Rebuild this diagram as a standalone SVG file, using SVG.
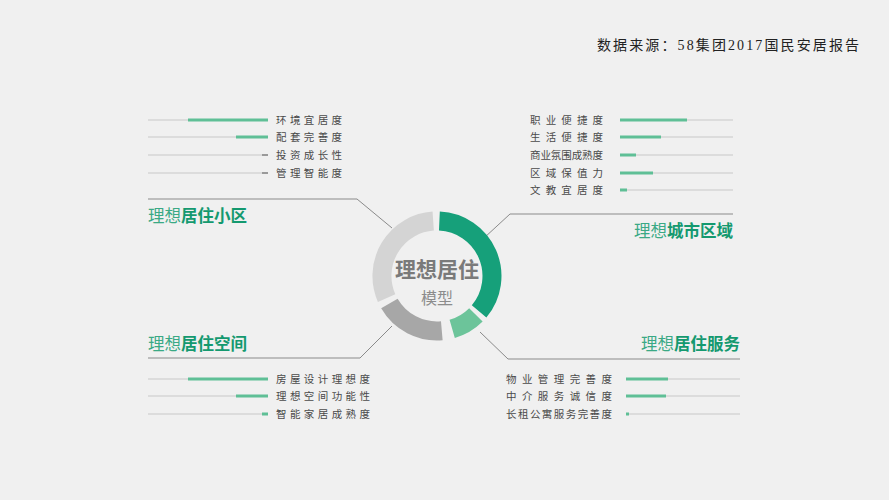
<svg xmlns="http://www.w3.org/2000/svg" width="889" height="500" viewBox="0 0 889 500">
<style>
.bg{fill:#f0f0f0}
.track{stroke:#dcdcdc;stroke-width:2;fill:none}
.bar{stroke:#5fbf96;stroke-width:3;fill:none}
.barg{stroke:#9a9a9a;stroke-width:2;fill:none}
.div{stroke:#8a8a8a;stroke-width:1;fill:none}
.lbl{font-family:"Noto Sans CJK SC","Noto Sans",sans-serif;font-size:10.5px;fill:#4a4a4a}
.tl{font-family:"Noto Sans CJK SC",sans-serif;font-size:16.5px;fill:#3aa985}
.tb{font-weight:bold;fill:#14996f}
.src{font-family:"Liberation Serif","Noto Sans CJK SC",serif;font-size:14px;fill:#222}
.ring{fill:none;stroke-width:19}
</style>
<rect class="bg" width="889" height="500"/>
<text class="src" x="597" y="50" textLength="262" lengthAdjust="spacing">数据来源：58集团2017国民安居报告</text>

<g id="connectors">
<polyline class="div" points="148,199 357,199 392,228"/>
<polyline class="div" points="733,214 510,214 484,238"/>
<polyline class="div" points="148,358 360,358 392,326"/>
<polyline class="div" points="740,359 508,359 480,332"/>
</g>

<g id="ring">
<path class="ring" stroke="#16a07a" d="M 439.4 221.1 A 55 55 0 0 1 479.1 311.4"/>
<path class="ring" stroke="#6cc49a" d="M 475.9 314.9 A 55 55 0 0 1 452.2 328.9"/>
<path class="ring" stroke="#a7a7a7" d="M 441.8 330.8 A 55 55 0 0 1 389.4 303.5"/>
<path class="ring" stroke="#d4d4d4" d="M 386.6 298.1 A 55 55 0 0 1 433.2 221.1"/>
<text x="437" y="277" text-anchor="middle" style="font-family:'Noto Sans CJK SC',sans-serif;font-size:21px;font-weight:bold;fill:#7a7a7a">理想居住</text>
<text x="437" y="304" text-anchor="middle" style="font-family:'Noto Sans CJK SC',sans-serif;font-size:16px;fill:#8c8c8c">模型</text>
</g>

<g id="node-xiaoqu">
<text class="tl" x="148" y="222">理想<tspan class="tb">居住小区</tspan></text>
<line class="track" x1="148" y1="120" x2="268" y2="120"/><line class="bar" x1="188" y1="120" x2="268" y2="120"/>
<text class="lbl" x="276" y="124" textLength="66" lengthAdjust="spacing">环境宜居度</text>
<line class="track" x1="148" y1="137" x2="268" y2="137"/><line class="bar" x1="236" y1="137" x2="268" y2="137"/>
<text class="lbl" x="276" y="141" textLength="66" lengthAdjust="spacing">配套完善度</text>
<line class="track" x1="148" y1="155" x2="268" y2="155"/><line class="barg" x1="262" y1="155" x2="268" y2="155"/>
<text class="lbl" x="276" y="159" textLength="66" lengthAdjust="spacing">投资成长性</text>
<line class="track" x1="148" y1="173" x2="268" y2="173"/><line class="barg" x1="262" y1="173" x2="268" y2="173"/>
<text class="lbl" x="276" y="177" textLength="66" lengthAdjust="spacing">管理智能度</text>
</g>

<g id="node-quyu">
<text class="tl" x="733" y="237" text-anchor="end">理想<tspan class="tb">城市区域</tspan></text>
<line class="track" x1="620" y1="120" x2="733" y2="120"/><line class="bar" x1="620" y1="120" x2="687" y2="120"/>
<text class="lbl" x="530" y="124" textLength="73" lengthAdjust="spacing">职业便捷度</text>
<line class="track" x1="620" y1="137" x2="733" y2="137"/><line class="bar" x1="620" y1="137" x2="661" y2="137"/>
<text class="lbl" x="530" y="141" textLength="73" lengthAdjust="spacing">生活便捷度</text>
<line class="track" x1="620" y1="155" x2="733" y2="155"/><line class="bar" x1="620" y1="155" x2="636" y2="155"/>
<text class="lbl" x="530" y="159" textLength="73" lengthAdjust="spacing">商业氛围成熟度</text>
<line class="track" x1="620" y1="173" x2="733" y2="173"/><line class="bar" x1="620" y1="173" x2="653" y2="173"/>
<text class="lbl" x="530" y="177" textLength="73" lengthAdjust="spacing">区域保值力</text>
<line class="track" x1="620" y1="190" x2="733" y2="190"/><line class="bar" x1="620" y1="190" x2="627" y2="190"/>
<text class="lbl" x="530" y="194" textLength="73" lengthAdjust="spacing">文教宜居度</text>
</g>

<g id="node-kongjian">
<text class="tl" x="148" y="350">理想<tspan class="tb">居住空间</tspan></text>
<line class="track" x1="148" y1="379" x2="268" y2="379"/><line class="bar" x1="188" y1="379" x2="268" y2="379"/>
<text class="lbl" x="276" y="383" textLength="94" lengthAdjust="spacing">房屋设计理想度</text>
<line class="track" x1="148" y1="396" x2="268" y2="396"/><line class="bar" x1="236" y1="396" x2="268" y2="396"/>
<text class="lbl" x="276" y="400" textLength="94" lengthAdjust="spacing">理想空间功能性</text>
<line class="track" x1="148" y1="414" x2="268" y2="414"/><line class="bar" x1="262" y1="414" x2="268" y2="414"/>
<text class="lbl" x="276" y="418" textLength="94" lengthAdjust="spacing">智能家居成熟度</text>
</g>

<g id="node-fuwu">
<text class="tl" x="740" y="350" text-anchor="end">理想<tspan class="tb">居住服务</tspan></text>
<line class="track" x1="626" y1="379" x2="740" y2="379"/><line class="bar" x1="626" y1="379" x2="668" y2="379"/>
<text class="lbl" x="506" y="383" textLength="106" lengthAdjust="spacing">物业管理完善度</text>
<line class="track" x1="626" y1="396" x2="740" y2="396"/><line class="bar" x1="626" y1="396" x2="666" y2="396"/>
<text class="lbl" x="506" y="400" textLength="106" lengthAdjust="spacing">中介服务诚信度</text>
<line class="track" x1="626" y1="414" x2="740" y2="414"/><line class="bar" x1="626" y1="414" x2="629" y2="414"/>
<text class="lbl" x="506" y="418" textLength="106" lengthAdjust="spacing">长租公寓服务完善度</text>
</g>
</svg>
